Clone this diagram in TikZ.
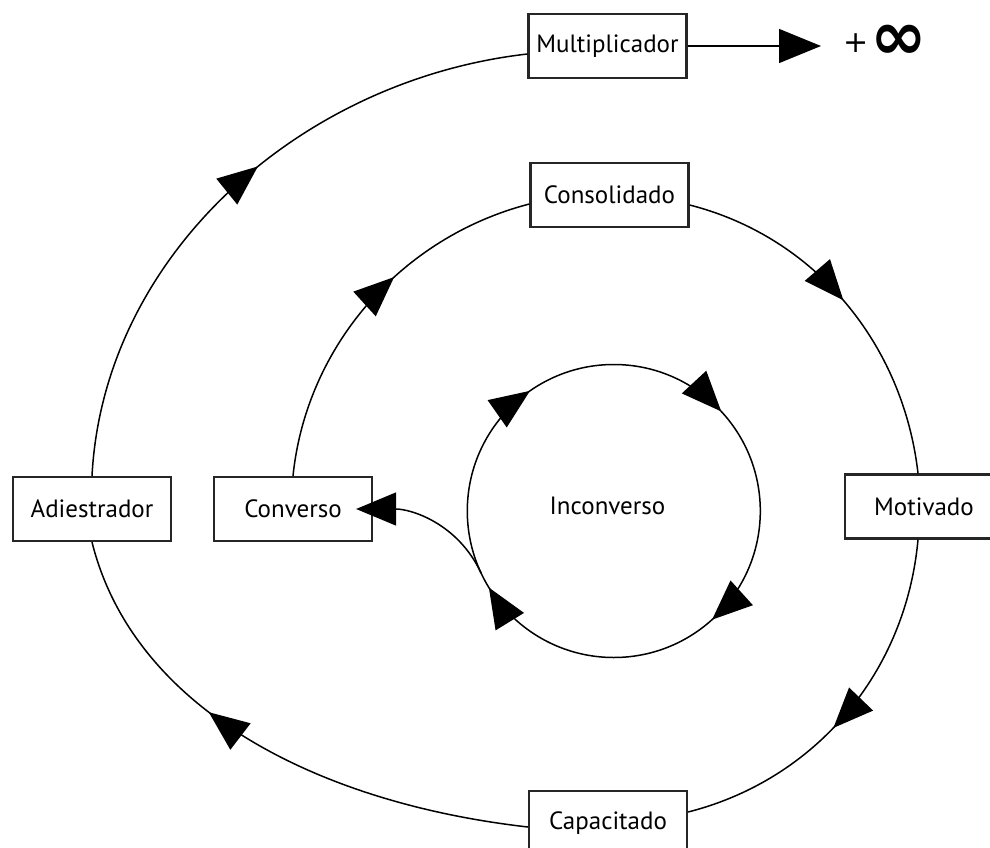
\documentclass[tikz,border=0pt]{standalone}
\usepackage{fontspec}
\setmainfont{PT Sans}
\newfontfamily\symfont{DejaVu Sans}
\usetikzlibrary{arrows.meta,decorations.markings}
\newcommand\tri{\arrow{Triangle[length=40pt,width=33pt]}}
\begin{document}
\begin{tikzpicture}[x=1pt,y=1pt,
  box/.style={draw=black!85,line width=2.2pt,minimum width=158pt,minimum height=64pt,inner sep=0pt,font=\fontsize{25}{30}\selectfont},
  lbl/.style={inner sep=0pt,font=\fontsize{25}{30}\selectfont},
  flow/.style={line width=1.5pt},
  mid/.style={postaction={decorate},decoration={markings,mark=at position #1 with {\tri}}}]
\useasboundingbox (0,0) rectangle (990,-848);
% boxes
\node[box] (mult) at (607.5,-46) {Multiplicador};
\node[box] (cons) at (609.5,-195) {Consolidado};
\node[box] (adi) at (92,-509) {Adiestrador};
\node[box] (conv) at (293,-509) {Converso};
\node[box] (mot) at (924,-506.5) {Motivado};
\node[box] (cap) at (608,-823) {Capacitado};
\node[circle,minimum size=293pt,inner sep=0pt] (inner) at (614,-511) {};
\node[lbl] (inct) at (607.5,-506) {Inconverso};
% infinity
\coordinate (tipend) at (821,-46);
\node[inner sep=0pt,font=\symfont\fontsize{30}{30}\selectfont] (plus) at (856,-43.5) {+};
\node[inner sep=0pt,font=\symfont\bfseries\fontsize{68}{68}\selectfont] (inf) at (898.5,-42.5) {∞};
% spiral
\draw[flow,mid=0.595] (conv.north) .. controls +(84.1:131.6) and +(194.5:131.6) .. ([yshift=-9pt]cons.west);
\draw[flow,mid=0.49] ([yshift=-10pt]cons.east) .. controls +(-14.3:130) and +(96.5:130) .. ([xshift=-6pt]mot.north);
\draw[flow,mid=0.553] ([xshift=-6pt]mot.south) .. controls +(-95.2:132.6) and +(14.3:132.6) .. ([yshift=11pt]cap.east);
\draw[flow,mid=0.62] ([yshift=-4pt]cap.west) .. controls +(173.5:215) and +(-76:170) .. (adi.south);
\draw[flow,mid=0.55] (adi.north) .. controls +(87:220) and +(186.5:230) .. ([yshift=-8pt]mult.west);
\draw[flow,-{Triangle[length=42pt,width=34pt]}] (mult.east) -- (tipend);
% inner circle
\draw[flow,postaction={decorate},decoration={markings,
  mark=at position 0.153 with {\tri},
  mark=at position 0.381 with {\tri},
  mark=at position 0.633 with {\tri},
  mark=at position 0.9125 with {\tri}}]
  (inner.west) arc[start angle=180,end angle=-180,radius=146.5];
\draw[flow,-{Triangle[length=40pt,width=33pt]}] (inner.205) to[out=115,in=0] ([xshift=-17pt]conv.east);
\end{tikzpicture}
\end{document}
